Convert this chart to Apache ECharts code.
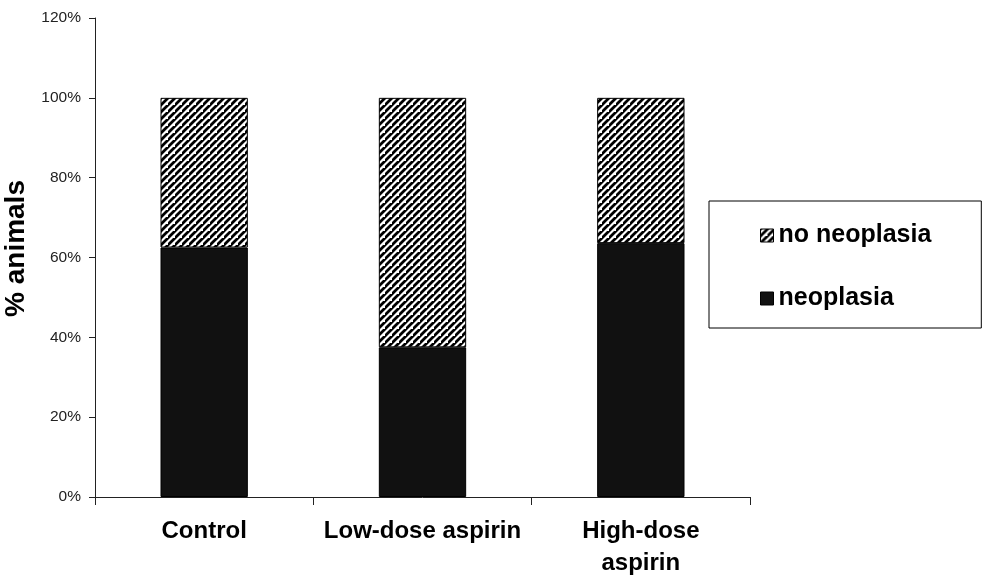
<!DOCTYPE html>
<html>
<head>
<meta charset="utf-8">
<script src="https://cdn.jsdelivr.net/npm/echarts@6/dist/echarts.min.js"></script>
<style>
html,body{margin:0;padding:0;background:#fff;}
#c{width:995px;height:588px;}
</style>
</head>
<body>
<div id="c"></div>
<script>
var categories = ['Control', 'Low-dose aspirin', 'High-dose\naspirin'];
var neoplasia = [62.5, 37.5, 63.6];
var noNeoplasia = [37.5, 62.5, 36.4];
var yTicks = [0, 20, 40, 60, 80, 100, 120];

function makeHatch() {
  var s = 7;
  var cv = document.createElement('canvas');
  cv.width = s; cv.height = s;
  var ctx = cv.getContext('2d');
  ctx.fillStyle = '#fff';
  ctx.fillRect(0, 0, s, s);
  ctx.strokeStyle = '#000';
  ctx.lineWidth = 2.8;
  ctx.beginPath();
  ctx.moveTo(-1, s + 1); ctx.lineTo(s + 1, -1);
  ctx.moveTo(-1 - s, s + 1); ctx.lineTo(1, -1);
  ctx.moveTo(s - 1, 2 * s + 1); ctx.lineTo(2 * s + 1, s - 1);
  ctx.stroke();
  return cv;
}
var hatch = { image: makeHatch(), repeat: 'repeat' };

var chart = echarts.init(document.getElementById('c'), null, { renderer: 'canvas' });
chart.setOption({
  backgroundColor: '#fff',
  animation: false,
  grid: { left: 95, right: 245, top: 18, bottom: 91, containLabel: false, outerBoundsMode: 'none' },
  legend: {
    orient: 'vertical',
    left: 709,
    top: 201,
    padding: [22, 50, 17, 51],
    itemGap: 38,
    itemWidth: 13,
    itemHeight: 13,
    borderColor: '#000',
    borderWidth: 1,
    textStyle: { fontFamily: 'Liberation Sans, Arial', fontWeight: 'bold', fontSize: 25, color: '#000' },
    data: [
      { name: 'no neoplasia', icon: 'rect', itemStyle: { color: hatch, borderColor: '#000', borderWidth: 1 } },
      { name: 'neoplasia', icon: 'rect', itemStyle: { color: '#111', borderColor: '#000', borderWidth: 1 } }
    ]
  },
  xAxis: {
    type: 'category',
    data: categories,
    axisLine: { lineStyle: { color: '#222', width: 1 } },
    axisTick: { show: true, length: 8, lineStyle: { color: '#222' } },
    axisLabel: {
      margin: 18,
      fontFamily: 'Liberation Sans, Arial',
      fontWeight: 'bold',
      fontSize: 24,
      lineHeight: 32,
      color: '#000',
      interval: 0
    }
  },
  yAxis: {
    type: 'value',
    min: 0,
    max: 120,
    interval: 20,
    name: '% animals',
    nameLocation: 'middle',
    nameRotate: 90,
    nameGap: 57,
    nameTextStyle: { fontFamily: 'Liberation Sans, Arial', fontWeight: 'bold', fontSize: 28, color: '#000', padding: [0, 0, 0, 18] },
    axisLine: { show: true, lineStyle: { color: '#222', width: 1 } },
    axisTick: { show: true, length: 6, lineStyle: { color: '#222' } },
    splitLine: { show: false },
    axisLabel: {
      margin: 14,
      fontFamily: 'Liberation Sans, Arial',
      fontSize: 15.5,
      color: '#222',
      formatter: '{value}%'
    }
  },
  series: [
    {
      name: 'neoplasia',
      type: 'bar',
      stack: 'a',
      barWidth: '40%',
      data: neoplasia,
      itemStyle: { color: '#111', borderColor: '#000', borderWidth: 1 }
    },
    {
      name: 'no neoplasia',
      type: 'bar',
      stack: 'a',
      barWidth: '40%',
      data: noNeoplasia,
      itemStyle: { color: hatch, borderColor: '#000', borderWidth: 1 }
    }
  ]
});
</script>
</body>
</html>
